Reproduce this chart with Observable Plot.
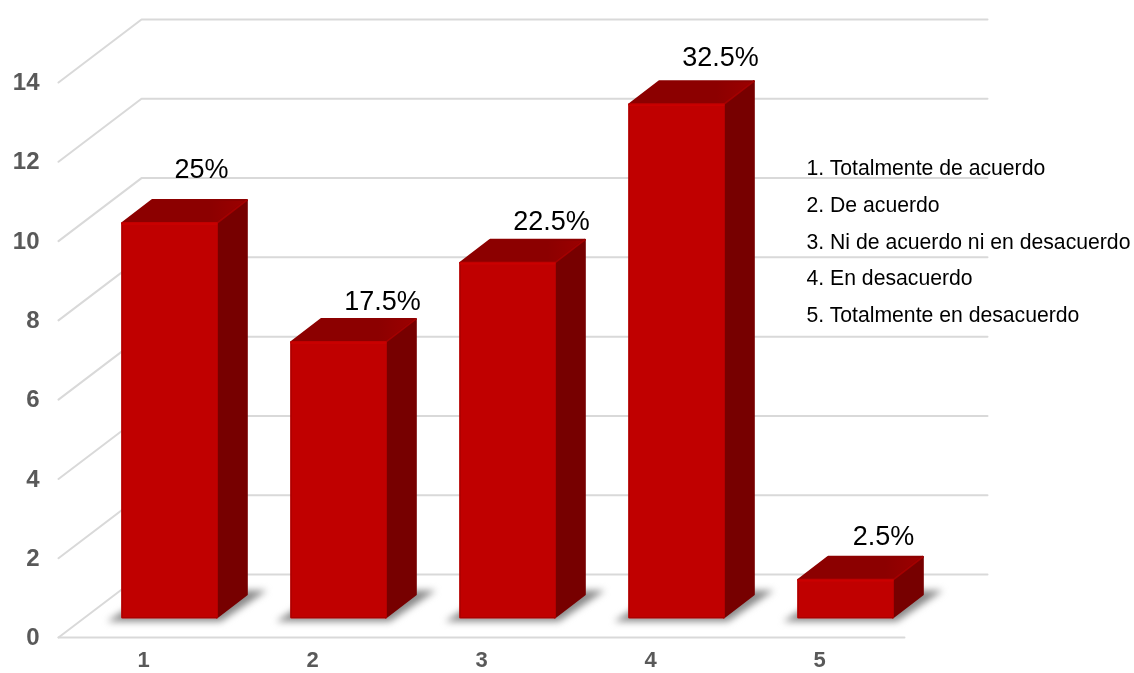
<!DOCTYPE html>
<html>
<head>
<meta charset="utf-8">
<style>
html,body{margin:0;padding:0;background:#fff;}
svg{display:block;}
</style>
<script src="https://cdn.jsdelivr.net/npm/d3@7"></script>
<script src="https://cdn.jsdelivr.net/npm/@observablehq/plot@0.6"></script>
</head>
<body>
<div id="chart"></div>
<script>
const categories = [1, 2, 3, 4, 5];
const counts = [10, 7, 9, 13, 1];
const percentLabels = ["25%", "17.5%", "22.5%", "32.5%", "2.5%"];
const yTicks = [0, 2, 4, 6, 8, 10, 12, 14];
const legendItems = [
  "1. Totalmente de acuerdo",
  "2. De acuerdo",
  "3. Ni de acuerdo ni en desacuerdo",
  "4. En desacuerdo",
  "5. Totalmente en desacuerdo"
];

// pixel -> data unit factors for the pseudo-3D geometry
const ux = 1 / 169, uy = 1 / 39.64;
const wallX = 83 * ux, wallY = 63 * uy;          // depth of the chart box
const depthX = 30 * ux, depthY = 23 * uy;        // depth of each bar
const offX = 26 * ux, baseY = 19 * uy;           // where the bars stand on the floor
const halfW = 47.3 * ux, inset = uy;             // stroke adds 1px on every side
const xMin = 0.497, xMax = 5.994, yMax = 15.59;

const bars = categories.map((c, i) => ({c, v: counts[i], label: percentLabels[i], cx: c + offX}));

const poly = (pick) => bars.flatMap(b => pick(b).map(([x, y]) => ({id: b.c, x, y})));
const lo = baseY + inset, hi = (b) => baseY + b.v - inset;
const front = poly(b => { const l = b.cx - halfW, r = b.cx + halfW, t = hi(b);
  return [[l, lo], [r, lo], [r, t], [l, t], [l, lo]]; });
const side = poly(b => { const r = b.cx + halfW, t = hi(b);
  return [[r, lo], [r + depthX, lo + depthY], [r + depthX, t + depthY], [r, t], [r, lo]]; });
const top_ = poly(b => { const l = b.cx - halfW, r = b.cx + halfW, t = hi(b);
  return [[l, t], [r, t], [r + depthX, t + depthY], [l + depthX, t + depthY], [l, t]]; });
const shadow = poly(b => { const l = b.cx - halfW, r = b.cx + halfW;
  return [[l - 15 * ux, baseY - 3 * uy], [r + 4 * ux, baseY - 3 * uy],
          [r + 50 * ux, baseY + 28 * uy], [r + 22 * ux, baseY + 28 * uy], [l + 14 * ux, baseY + 16 * uy]]; });
const topEdge = poly(b => { const r = b.cx + halfW, t = hi(b);
  return [[r, t], [r + depthX, t + depthY]]; });
const frontHi = poly(b => { const r = b.cx + halfW, l = b.cx - halfW, t = hi(b) - uy;
  return [[l, t], [r, t]]; });
const frontLo = poly(b => { const r = b.cx + halfW, l = b.cx - halfW;
  return [[l, hi(b)], [l, lo], [r, lo]]; });

const wallLines = yTicks.flatMap(t => [
  {id: t, x: xMin, y: t},
  {id: t, x: xMin + wallX, y: t + wallY},
  {id: t, x: xMax, y: t + wallY}
]);
const floorFront = [{x: xMin, y: 0}, {x: xMax - wallX, y: 0}];

const grid = {stroke: "#d9d9d9", strokeWidth: 2};
const nudges = [
  {cats: [1], dx: 32, dy: -53},
  {cats: [2, 3], dx: 44, dy: -40},
  {cats: [4], dx: 44, dy: -46},
  {cats: [5], dx: 38, dy: -42}
];
const legendX = 4.923, legendTop = 11.84, legendStep = 0.928;
const soft = "blur(0.35px)";

const defs = () => {
  const s = d3.create("svg:defs");
  const g = s.append("linearGradient").attr("id", "topFill");
  g.append("stop").attr("offset", "0%").attr("stop-color", "#8c0000");
  g.append("stop").attr("offset", "70%").attr("stop-color", "#8c0000");
  g.append("stop").attr("offset", "100%").attr("stop-color", "#9c0000");
  return s.node();
};

const plot = Plot.plot({
  width: 1134, height: 673,
  marginLeft: 58, marginRight: 147, marginTop: 19, marginBottom: 36,
  style: {background: "#fff", fontFamily: "'Liberation Sans', Arial, sans-serif"},
  x: {domain: [xMin, xMax]},
  y: {domain: [0, yMax]},
  marks: [
    defs,
    Plot.line(wallLines, {x: "x", y: "y", z: "id", ...grid}),
    Plot.line(floorFront, {x: "x", y: "y", ...grid}),
    Plot.axisY({ticks: yTicks, tickSize: 0, tickPadding: 19, label: null,
      fontSize: 24, fontWeight: "bold", fill: "#595959", imageFilter: soft}),
    Plot.axisX({ticks: categories, tickFormat: d3.format("d"), tickSize: 0, tickPadding: 14, label: null,
      fontSize: 22, fontWeight: "bold", fill: "#595959", imageFilter: soft}),
    Plot.line(shadow, {x: "x", y: "y", z: "id", fill: "#8a8a8a", stroke: "none", imageFilter: "blur(3.5px)"}),
    Plot.line(side, {x: "x", y: "y", z: "id", fill: "#770000", stroke: "#770000", strokeLinejoin: "round", strokeWidth: 2}),
    Plot.line(top_, {x: "x", y: "y", z: "id", fill: "url(#topFill)", stroke: "#8c0000", strokeLinejoin: "round", strokeWidth: 2}),
    Plot.line(topEdge, {x: "x", y: "y", z: "id", stroke: "#a50000", strokeWidth: 1.5}),
    Plot.line(front, {x: "x", y: "y", z: "id", fill: "#c00000", stroke: "#c00000", strokeLinejoin: "round", strokeWidth: 2}),
    Plot.line(frontLo, {x: "x", y: "y", z: "id", stroke: "#aa0000", strokeWidth: 1.2}),
    Plot.line(frontHi, {x: "x", y: "y", z: "id", stroke: "#cb0000", strokeWidth: 1.5}),
    ...nudges.map(n => Plot.text(bars.filter(b => n.cats.includes(b.c)), {
      x: "cx", y: b => baseY + b.v, text: "label", dx: n.dx, dy: n.dy,
      fontSize: 27, fill: "#000", imageFilter: soft})),
    Plot.text(legendItems, {
      x: () => legendX, y: (d, i) => legendTop - i * legendStep, text: d => d,
      textAnchor: "start", fontSize: 21.2, fill: "#000", imageFilter: soft})
  ]
});
document.getElementById("chart").append(plot);
</script>
</body>
</html>
